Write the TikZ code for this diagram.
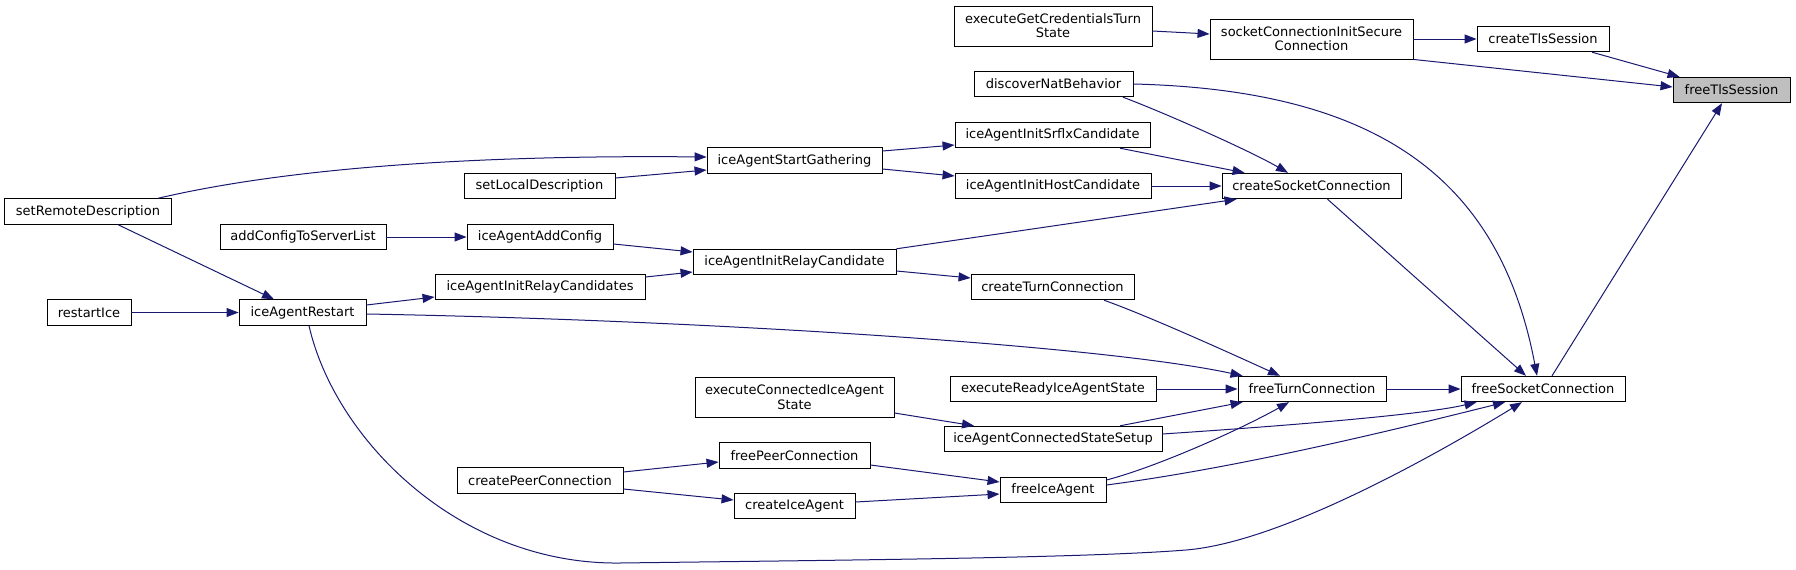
\documentclass[tikz,border=0pt]{standalone}
\usepackage{fontspec}
\setmainfont{DejaVu Sans}
\usetikzlibrary{arrows.meta}
\definecolor{edgeblue}{HTML}{191970}
\definecolor{gfill}{HTML}{BFBFBF}
\newcommand{\dfont}{\fontsize{13}{14.3}\selectfont}
\begin{document}
\begin{tikzpicture}[x=1pt,y=-1pt,
  box/.style={draw=black, line width=0.9pt, fill=white, minimum height=25.5pt, inner sep=0pt, font=\dfont, align=center},
  edg/.style={draw=edgeblue, line width=1pt, -{Triangle[length=12pt,width=9pt]}}]
\useasboundingbox (0,0) rectangle (1796,570);
\node[box, minimum width=117pt, fill=gfill] (fts) at (1731.5,90) {freeTlsSession};
\node[box, minimum width=132pt] (cts) at (1543,39) {createTlsSession};
\node[box, minimum width=203pt, minimum height=40pt] (scisc) at (1311.5,39) {socketConnectionInitSecure\\Connection};
\node[box, minimum width=198pt, minimum height=40pt] (egcts) at (1053,26) {executeGetCredentialsTurn\\State};
\node[box, minimum width=159pt] (dnb) at (1053.5,84) {discoverNatBehavior};
\node[box, minimum width=195pt] (iaisc) at (1052.5,135) {iceAgentInitSrflxCandidate};
\node[box, minimum width=196pt] (iahc) at (1053,186) {iceAgentInitHostCandidate};
\node[box, minimum width=179pt] (csc) at (1311.5,186) {createSocketConnection};
\node[box, minimum width=175pt] (iasg) at (794.5,160.5) {iceAgentStartGathering};
\node[box, minimum width=151pt] (sld) at (539.5,186) {setLocalDescription};
\node[box, minimum width=167pt] (srd) at (88,211.5) {setRemoteDescription};
\node[box, minimum width=166pt] (actsl) at (303,237) {addConfigToServerList};
\node[box, minimum width=146pt] (iaac) at (540,237) {iceAgentAddConfig};
\node[box, minimum width=203pt] (iairc) at (794.5,262) {iceAgentInitRelayCandidate};
\node[box, minimum width=210pt] (iaircs) at (540,287) {iceAgentInitRelayCandidates};
\node[box, minimum width=163pt] (ctc) at (1052.5,287) {createTurnConnection};
\node[box, minimum width=84pt] (ri) at (89,312.5) {restartIce};
\node[box, minimum width=127pt] (iar) at (302.5,312.5) {iceAgentRestart};
\node[box, minimum width=206pt] (eriass) at (1053,389) {executeReadyIceAgentState};
\node[box, minimum width=148pt] (ftc) at (1312,389) {freeTurnConnection};
\node[box, minimum width=164pt] (fsc) at (1543,389) {freeSocketConnection};
\node[box, minimum width=199pt, minimum height=40pt] (ecias) at (794.5,397) {executeConnectedIceAgent\\State};
\node[box, minimum width=218pt] (iacss) at (1053,439) {iceAgentConnectedStateSetup};
\node[box, minimum width=151pt] (fpc) at (794.5,455.5) {freePeerConnection};
\node[box, minimum width=166pt] (cpc) at (540,480.5) {createPeerConnection};
\node[box, minimum width=106pt] (fia) at (1053,490) {freeIceAgent};
\node[box, minimum width=121pt] (cia) at (794.5,506) {createIceAgent};

\draw[edg] ([xshift=49pt]cts.south) -- ([xshift=7pt]fts.north west);
\draw[edg] (scisc.south east) -- ([yshift=3pt]fts.west);
\draw[edg] ([xshift=9pt]fsc.north) -- ([xshift=-9.5pt]fts.south);
\draw[edg] (scisc.east) -- (cts.west);
\draw[edg] ([yshift=-5pt]egcts.east) -- ([yshift=5pt]scisc.west);
\draw[edg] ([xshift=69.5pt]dnb.south) .. controls +(40,15) and +(-40,-23) .. ([xshift=-23.5pt]csc.north);
\draw[edg] (dnb.east) .. controls (1380,90) and (1500,180) .. ([xshift=-6pt]fsc.north);
\draw[edg] ([xshift=67.5pt]iaisc.south) -- ([xshift=23pt]csc.north west);
\draw[edg] (iahc.east) -- (csc.west);
\draw[edg] (iairc.north east) -- ([xshift=15pt]csc.south west);
\draw[edg] ([xshift=16pt]csc.south) -- ([xshift=-17pt]fsc.north);
\draw[edg] ([yshift=9.5pt]iasg.east) -- ([yshift=-10pt]iaisc.west);
\draw[edg] ([yshift=-8.5pt]iasg.east) -- ([yshift=10pt]iahc.west);
\draw[edg] ([xshift=70pt]srd.north) .. controls (300,165) and (500,155) .. ([yshift=3.5pt]iasg.west);
\draw[edg] ([yshift=8pt]sld.east) -- ([yshift=-9.5pt]iasg.west);
\draw[edg] ([xshift=30pt]srd.south) -- ([xshift=-28.5pt]iar.north);
\draw[edg] (actsl.east) -- (iaac.west);
\draw[edg] ([yshift=-7pt]iaac.east) -- ([yshift=10pt]iairc.west);
\draw[edg] ([yshift=10pt]iaircs.east) -- ([yshift=-10pt]iairc.west);
\draw[edg] ([yshift=-9pt]iairc.east) -- ([yshift=9pt]ctc.west);
\draw[edg] ([yshift=7.5pt]iar.east) -- ([yshift=-10pt]iaircs.west);
\draw[edg] (ri.east) -- (iar.west);
\draw[edg] ([yshift=-1.5pt]iar.east) .. controls (700,320) and (1100,345) .. ([xshift=5pt]ftc.north west);
\draw[edg] ([xshift=6.5pt]iar.south) .. controls (335,440) and (460,565) .. (620,563) .. controls (850,560) and (1086,558) .. (1186,550) .. controls (1286,542) and (1452,445) .. ([xshift=-21pt]fsc.south);
\draw[edg] ([xshift=51.5pt]ctc.south) .. controls +(45,16) and +(-44,-20) .. ([xshift=-32pt]ftc.north);
\draw[edg] (eriass.east) -- (ftc.west);
\draw[edg] ([xshift=67pt]iacss.north) -- ([xshift=5pt]ftc.south west);
\draw[edg] ([yshift=5pt]iacss.east) .. controls +(90,-6) and +(-60,14) .. ([xshift=16pt]fsc.south west);
\draw[edg] ([yshift=-16pt]ecias.east) -- ([xshift=-79pt]iacss.north);
\draw[edg] (ftc.east) -- (fsc.west);
\draw[edg] ([yshift=10pt]fia.east) .. controls +(50,-13) and +(-50,28) .. ([xshift=-23pt]ftc.south);
\draw[edg] ([yshift=5pt]fia.east) .. controls +(130,-17) and +(-120,30) .. ([xshift=-38pt]fsc.south);
\draw[edg] ([yshift=-9.5pt]fpc.east) -- ([yshift=8pt]fia.west);
\draw[edg] ([yshift=4pt]cia.east) -- ([yshift=-4pt]fia.west);
\draw[edg] ([yshift=8.5pt]cpc.east) -- ([yshift=-6.5pt]fpc.west);
\draw[edg] ([yshift=-8.5pt]cpc.east) -- ([yshift=6pt]cia.west);
\end{tikzpicture}
\end{document}
